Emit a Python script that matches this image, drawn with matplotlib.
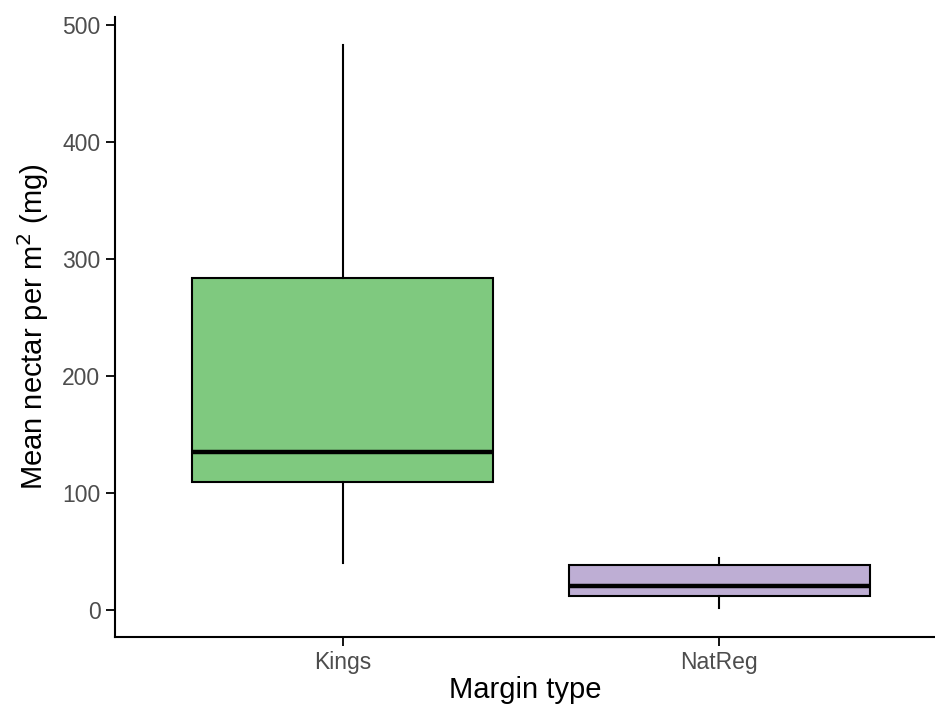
import matplotlib
matplotlib.use("Agg")
import matplotlib.pyplot as plt

# boxplot summary values
groups = ["Kings", "NatReg"]
whislo = [40, 1.7]
q1 = [109.5, 12]
med = [135, 20.5]
q3 = [284, 38.5]
whishi = [483, 44.5]
fills = ["#7FC97F", "#BEAED4"]

plt.rcParams["font.family"] = ["Liberation Sans", "DejaVu Sans"]

fig = plt.figure(figsize=(9.35, 7.06), dpi=100)
ax = fig.add_axes([0.123, 0.098, 0.877, 0.878])

stats = []
for i, g in enumerate(groups):
    stats.append(dict(label=g, whislo=whislo[i], q1=q1[i], med=med[i],
                      q3=q3[i], whishi=whishi[i], fliers=[]))

bp = ax.bxp(stats, positions=[1, 2], widths=0.8, patch_artist=True,
            showcaps=False,
            boxprops=dict(edgecolor="black", linewidth=1.5),
            whiskerprops=dict(color="black", linewidth=1.5),
            medianprops=dict(color="black", linewidth=3.2, solid_capstyle="butt"))
for patch, c in zip(bp["boxes"], fills):
    patch.set_facecolor(c)

ax.set_xlim(0.394, 2.574)
ax.set_ylim(-23, 507)
ax.set_yticks([0, 100, 200, 300, 400, 500])

for s in ["top", "right"]:
    ax.spines[s].set_visible(False)
for s in ["left", "bottom"]:
    ax.spines[s].set_linewidth(1.5)

ax.tick_params(axis="both", length=6.5, width=1.3, labelsize=16.5,
               labelcolor="#4D4D4D", color="black", pad=4)

ax.set_xlabel("Margin type", fontsize=21, labelpad=1.5)
ax.set_ylabel("Mean nectar per m$^2$ (mg)", fontsize=21, labelpad=8)

fig.savefig("out.png", dpi=100)
